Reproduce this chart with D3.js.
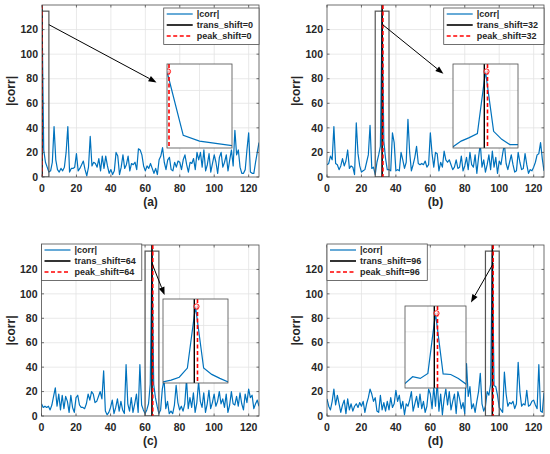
<!DOCTYPE html>
<html><head><meta charset="utf-8">
<script src="https://cdn.jsdelivr.net/npm/d3@7"></script>
<style>body{margin:0;background:#fff}svg{display:block}text{font-family:"Liberation Sans",Arial,sans-serif;font-weight:bold;fill:#262626}</style>
</head><body>
<svg id="chart" width="550" height="454"></svg>
<script>
// ---- data ----
const corrA = [133,22,12,8,4,5,12,41,14,6,4,7,5,8,20,41,4,7,7,8,19,5,7,10,13,6,1,8,33,9,12,11,8,15,5,17,7,17,9,3,6,2,5,20,17,2,8,18,7,10,17,5,11,10,12,6,23,22,18,9,5,9,7,11,7,3,7,2,14,17,24,12,6,14,16,6,5,12,8,13,12,6,14,18,10,4,12,11,15,6,20,14,20,8,22,5,10,19,4,11,18,12,3,16,20,8,12,18,5,14,22,9,38,18,22,8,3,3,6,22,36,4,3,3,12,20,28];
const corrB = [10,11,17,14,41,11,10,6,9,15,9,13,22,7,9,8,2,44,19,9,4,5,6,12,18,42,7,8,2,12,18,25,133,29,15,6,6,5,36,28,5,6,5,20,14,7,12,47,20,5,10,16,25,11,10,11,10,13,8,10,36,19,8,20,19,5,12,8,21,14,12,14,10,6,8,14,7,8,17,5,9,16,6,20,10,8,18,3,16,27,8,14,4,10,18,6,21,8,16,3,13,10,19,27,11,6,12,18,10,4,5,20,12,6,7,19,10,3,6,5,8,12,18,19,28,15,5];
const corrC = [10,7,8,7,8,5,9,16,23,8,18,5,17,6,16,12,3,17,7,3,15,17,9,7,7,6,10,18,13,20,18,11,12,16,20,14,37,4,1,3,7,13,2,7,14,4,12,5,2,42,10,4,15,3,10,18,3,42,9,5,2,5,10,26,133,26,15,8,2,5,22,30,6,12,2,4,2,9,25,11,5,8,4,10,30,6,15,7,19,3,11,28,12,7,19,3,10,21,6,11,18,8,12,20,10,14,7,18,3,9,20,10,9,16,8,19,10,5,18,11,22,15,17,6,10,13,8];
const corrD = [14,8,5,12,22,9,17,10,3,9,13,2,14,5,10,4,8,10,7,11,8,12,3,10,15,22,18,12,15,4,3,17,5,11,4,12,5,15,7,10,21,12,17,6,12,1,10,8,13,20,4,10,16,7,18,6,12,3,8,22,18,6,24,8,28,4,18,1,14,22,9,20,5,12,18,2,20,14,6,11,2,43,16,24,6,10,3,12,20,35,10,4,8,20,17,26,133,25,24,17,7,5,3,36,18,8,11,10,12,6,10,44,20,8,10,9,21,8,9,12,13,9,6,42,4,3,19];
const seriesList = [corrA, corrB, corrC, corrD];
const panelLabels = ["(a)", "(b)", "(c)", "(d)"];
const transShifts = [0, 32, 64, 96];
const peakShifts = [0, 32, 64, 96];
const xTicks = [0, 20, 40, 60, 80, 100, 120];
const yTicks = [0, 20, 40, 60, 80, 100, 120];
const xDomain = [0, 126];
const yDomain = [0, 140];
const insetYDomain = [0, 146];
const zoomHalf = 4;
const boxTop = 135;
const arrowFrom = [[4, 124], [32.3, 124], [64, 125], [96.6, 125]];
const arrowTo = [[66.5, 77], [67.6, 84], [71.3, 99], [83.6, 93]];

// ---- layout ----
const layout = [
  {x:42, y:5, w:217, h:172, legend:"ne", inset:{x:167, y:64, w:65, h:84}},
  {x:327, y:5, w:217, h:172, legend:"ne", inset:{x:453, y:64, w:65, h:84}},
  {x:41.5, y:245, w:217.5, h:171, legend:"nw", inset:{x:163, y:299, w:65, h:84}},
  {x:327, y:245, w:217, h:171, legend:"nw", inset:{x:405, y:306, w:61, h:82}}
];
const blue = "#0072BD", red = "#FF0000";
const svg = d3.select("#chart");
const defs = svg.append("defs");

layout.forEach((L, k) => {
  const data = seriesList[k];
  const pts = data.map((v, i) => [i, v]);
  const x = d3.scaleLinear().domain(xDomain).range([L.x, L.x + L.w]);
  const y = d3.scaleLinear().domain(yDomain).range([L.y + L.h, L.y]);
  const g = svg.append("g");
  const cid = "clip" + k;
  defs.append("clipPath").attr("id", cid).append("rect")
    .attr("x", L.x).attr("y", L.y).attr("width", L.w).attr("height", L.h);

  // grid
  g.append("g").selectAll("line").data(xTicks.slice(1)).join("line")
    .attr("x1", d => x(d)).attr("x2", d => x(d)).attr("y1", L.y).attr("y2", L.y + L.h)
    .attr("stroke", "#e3e3e3").attr("stroke-width", 0.8);
  g.append("g").selectAll("line").data(yTicks.slice(1)).join("line")
    .attr("y1", d => y(d)).attr("y2", d => y(d)).attr("x1", L.x).attr("x2", L.x + L.w)
    .attr("stroke", "#e3e3e3").attr("stroke-width", 0.8);

  const plot = g.append("g").attr("clip-path", `url(#${cid})`);
  const line = d3.line().x(d => x(d[0])).y(d => y(d[1]));
  plot.append("path").datum(pts).attr("d", line).attr("fill", "none")
    .attr("stroke", blue).attr("stroke-width", 1.2).attr("stroke-linejoin", "round");
  // zoom box
  const bx0 = Math.max(xDomain[0], transShifts[k] - zoomHalf), bx1 = transShifts[k] + zoomHalf;
  plot.append("rect").attr("x", x(bx0)).attr("y", y(boxTop))
    .attr("width", x(bx1) - x(bx0)).attr("height", y(0) - y(boxTop))
    .attr("fill", "none").attr("stroke", "#555").attr("stroke-width", 1.2);
  plot.append("line").attr("x1", x(transShifts[k])).attr("x2", x(transShifts[k]))
    .attr("y1", L.y).attr("y2", L.y + L.h).attr("stroke", "#000").attr("stroke-width", 1.6);
  plot.append("line").attr("x1", x(peakShifts[k]) + (k ? 0.8 : 0)).attr("x2", x(peakShifts[k]) + (k ? 0.8 : 0))
    .attr("y1", L.y).attr("y2", L.y + L.h).attr("stroke", red).attr("stroke-width", 1.6)
    .attr("stroke-dasharray", "4,2.5");

  // axes frame & ticks
  g.append("rect").attr("x", L.x).attr("y", L.y).attr("width", L.w).attr("height", L.h)
    .attr("fill", "none").attr("stroke", "#4d4d4d").attr("stroke-width", 0.8);
  const tk = g.append("g").attr("stroke", "#4d4d4d").attr("stroke-width", 0.8);
  xTicks.forEach(t => {
    tk.append("line").attr("x1", x(t)).attr("x2", x(t)).attr("y1", L.y + L.h).attr("y2", L.y + L.h - 2.5);
    tk.append("line").attr("x1", x(t)).attr("x2", x(t)).attr("y1", L.y).attr("y2", L.y + 2.5);
  });
  yTicks.forEach(t => {
    tk.append("line").attr("x1", L.x).attr("x2", L.x + 2.5).attr("y1", y(t)).attr("y2", y(t));
    tk.append("line").attr("x1", L.x + L.w).attr("x2", L.x + L.w - 2.5).attr("y1", y(t)).attr("y2", y(t));
  });
  g.append("g").selectAll("text").data(xTicks).join("text")
    .attr("x", d => x(d)).attr("y", L.y + L.h + 15).attr("text-anchor", "middle")
    .attr("font-size", 10.5).text(d => d);
  g.append("g").selectAll("text").data(yTicks).join("text")
    .attr("x", L.x - 4).attr("y", d => y(d) + 3.7).attr("text-anchor", "end")
    .attr("font-size", 10.5).text(d => d);
  g.append("text").attr("transform", `translate(${L.x - 30},${L.y + L.h / 2}) rotate(-90)`)
    .attr("text-anchor", "middle").attr("dominant-baseline", "middle").attr("font-size", 12).text("|corr|");
  g.append("text").attr("x", L.x + L.w / 2).attr("y", L.y + L.h + 29).attr("text-anchor", "middle")
    .attr("font-size", 12).text(panelLabels[k]);

  // legend
  const labels = ["|corr|", "trans_shift=" + transShifts[k], "peak_shift=" + peakShifts[k]];
  const lg = g.append("g");
  const tmp = lg.append("text").attr("font-size", 9).text(labels[1]);
  const tw = tmp.node().getComputedTextLength(); tmp.remove();
  const lw = 33 + tw + 6, lh = 36.5;
  const lx = L.legend === "ne" ? L.x + L.w - lw : L.x;
  const ly = L.legend === "ne" ? L.y + 3 : L.y - 1;
  lg.append("rect").attr("x", lx).attr("y", ly).attr("width", lw).attr("height", lh)
    .attr("fill", "#fff").attr("stroke", "#4d4d4d").attr("stroke-width", 0.8);
  const styles = [
    {c: blue, w: 1.2, d: null}, {c: "#000", w: 1.6, d: null}, {c: red, w: 1.6, d: "4,2.5"}
  ];
  labels.forEach((t, i) => {
    const ry = ly + 6 + i * 11;
    lg.append("line").attr("x1", lx + 3).attr("x2", lx + 29).attr("y1", ry).attr("y2", ry)
      .attr("stroke", styles[i].c).attr("stroke-width", styles[i].w)
      .attr("stroke-dasharray", styles[i].d);
    lg.append("text").attr("x", lx + 33).attr("y", ry + 3.2).attr("font-size", 9).text(t);
  });

  // inset
  const I = L.inset;
  const ix = d3.scaleLinear().domain([transShifts[k] - zoomHalf, transShifts[k] + zoomHalf].map(v => Math.max(0, v)))
    .range([I.x, I.x + I.w]);
  if (k === 0) ix.domain([0, zoomHalf]);
  const iy = d3.scaleLinear().domain(insetYDomain).range([I.y + I.h, I.y]);
  const ig = svg.append("g");
  const icid = "iclip" + k;
  defs.append("clipPath").attr("id", icid).append("rect")
    .attr("x", I.x).attr("y", I.y).attr("width", I.w).attr("height", I.h);
  ig.append("rect").attr("x", I.x).attr("y", I.y).attr("width", I.w).attr("height", I.h).attr("fill", "#fff");
  ig.append("g").selectAll("line").data(ix.ticks(2).filter(t => ix(t) > I.x + 1 && ix(t) < I.x + I.w - 1)).join("line")
    .attr("x1", d => ix(d)).attr("x2", d => ix(d)).attr("y1", I.y).attr("y2", I.y + I.h)
    .attr("stroke", "#e3e3e3").attr("stroke-width", 0.8);
  ig.append("g").selectAll("line").data(iy.ticks(2).filter(t => t > 0)).join("line")
    .attr("y1", d => iy(d)).attr("y2", d => iy(d)).attr("x1", I.x).attr("x2", I.x + I.w)
    .attr("stroke", "#e3e3e3").attr("stroke-width", 0.8);
  const ip = ig.append("g").attr("clip-path", `url(#${icid})`);
  const iline = d3.line().x(d => ix(d[0])).y(d => iy(d[1]));
  ip.append("path").datum(pts).attr("d", iline).attr("fill", "none")
    .attr("stroke", blue).attr("stroke-width", 1.2);
  ip.append("line").attr("x1", ix(transShifts[k]) - 1.2).attr("x2", ix(transShifts[k]) - 1.2)
    .attr("y1", I.y).attr("y2", I.y + I.h).attr("stroke", "#000").attr("stroke-width", 1.4);
  ip.append("line").attr("x1", ix(peakShifts[k]) + 2).attr("x2", ix(peakShifts[k]) + 2)
    .attr("y1", I.y).attr("y2", I.y + I.h).attr("stroke", red).attr("stroke-width", 1.6)
    .attr("stroke-dasharray", "4,2.5");
  ip.append("circle").attr("cx", ix(peakShifts[k]) + 1).attr("cy", iy(data[peakShifts[k]])).attr("r", 2.6)
    .attr("fill", "#fff").attr("fill-opacity", 0.6).attr("stroke", red).attr("stroke-width", 0.9);
  ig.append("rect").attr("x", I.x).attr("y", I.y).attr("width", I.w).attr("height", I.h)
    .attr("fill", "none").attr("stroke", "#4d4d4d").attr("stroke-width", 0.8);

  // arrow
  const x1 = x(arrowFrom[k][0]), y1 = y(arrowFrom[k][1]);
  const x2 = x(arrowTo[k][0]), y2 = y(arrowTo[k][1]);
  const ang = Math.atan2(y2 - y1, x2 - x1), hl = 8, hw = 3;
  const bxp = x2 - hl * Math.cos(ang), byp = y2 - hl * Math.sin(ang);
  svg.append("line").attr("x1", x1).attr("y1", y1).attr("x2", bxp).attr("y2", byp)
    .attr("stroke", "#000").attr("stroke-width", 1);
  svg.append("path").attr("d", `M${x2},${y2}L${bxp + hw * Math.sin(ang)},${byp - hw * Math.cos(ang)}L${bxp - hw * Math.sin(ang)},${byp + hw * Math.cos(ang)}Z`)
    .attr("fill", "#000");
});
</script>
</body></html>
